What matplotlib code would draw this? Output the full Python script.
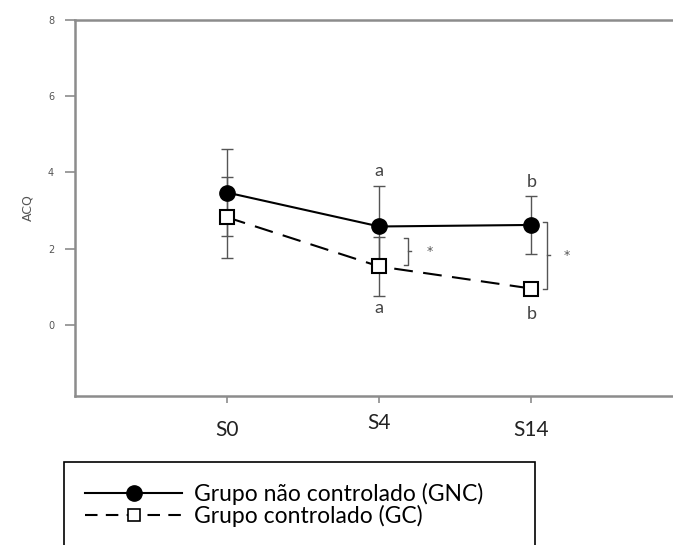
import matplotlib
matplotlib.use('Agg')
import matplotlib.pyplot as plt
from matplotlib.lines import Line2D
from matplotlib.patches import Rectangle

# data
semanas = ['S0', 'S4', 'S14']
x = [1, 2, 3]
gnc_media = [3.47, 2.58, 2.62]
gnc_erro = [1.14, 1.05, 0.76]
gc_media = [2.82, 1.53, 0.95]
gc_erro = [1.06, 0.77, 0.10]

# significance letters (x, y, text)
letras = [(2, 4.03, 'a'), (2, 0.45, 'a'), (3, 3.76, 'b'), (3, 0.29, 'b')]
# brackets between groups: x, y bottom, y top, star x
chaves = [(2.19, 1.58, 2.29, 2.33), (3.105, 0.95, 2.71, 3.23)]

cinza = '#8c8c8c'
fonte = ['Lato', 'DejaVu Sans']

fig = plt.figure(figsize=(6.73, 5.45), dpi=100)
ax = fig.add_axes([75/673, 1-396/545, 1-75/673, (396-20)/545])

ax.errorbar(x, gnc_media, yerr=gnc_erro, fmt='none', ecolor='#555555',
            elinewidth=1, capsize=4.5, capthick=1, zorder=2)
ax.errorbar(x, gc_media, yerr=gc_erro, fmt='none', ecolor='#555555',
            elinewidth=1, capsize=4.5, capthick=1, zorder=2)
ax.plot(x, gnc_media, '-', color='black', lw=1.5, marker='o', ms=11,
        mfc='black', mec='black', zorder=4)
ax.plot(x, gc_media, '--', color='black', lw=1.5, dashes=(9, 5), marker='s', ms=10,
        mfc='white', mec='black', mew=1.5, zorder=4)

for lx, ly, t in letras:
    ax.text(lx, ly, t, ha='center', va='center', fontsize=13,
            family=fonte, color='#444444')

for bx, y0, y1, sx in chaves:
    w = 0.03
    ym = (y0 + y1) / 2
    ax.plot([bx - w, bx, bx, bx - w], [y1, y1, y0, y0], color='#555555', lw=1)
    ax.plot([bx, bx + w * 0.6], [ym, ym], color='#555555', lw=1)
    ax.text(sx, ym, '*', ha='center', va='center', fontsize=9, color='#555555')

ax.set_xlim(0, 3.93)
ax.set_ylim(-1.87, 8)
ax.set_yticks([0, 2, 4, 6, 8])
ax.set_xticks(x)
ax.set_xticklabels(semanas, fontsize=15, family=fonte, color='#222222')
for lab in ax.get_xticklabels():
    if lab.get_text() == 'S4':
        lab.set_y(0.018)
ax.tick_params(axis='y', labelsize=7, colors='#555555', length=7, width=1.2, color=cinza, pad=8)
ax.tick_params(axis='x', length=5, width=1.2, color=cinza, pad=12)
ax.set_ylabel('ACQ', fontsize=9, color='#555555', labelpad=10)

for s in ['left', 'bottom', 'top']:
    ax.spines[s].set_color(cinza)
    ax.spines[s].set_linewidth(1.8)
ax.spines['right'].set_visible(False)

# legend box (runs past bottom of the figure)
fig.patches.append(Rectangle((64/673, -0.05), (535-64)/673, 0.05 + 1-462/545,
                             transform=fig.transFigure, fill=False,
                             edgecolor='black', lw=1.2))
handles = [Line2D([], [], color='black', lw=1.5, marker='o', ms=11, mfc='black'),
           Line2D([], [], color='black', lw=1.5, ls='--', dashes=(6, 4), marker='s', ms=8,
                  mfc='white', mew=1.2)]
fig.legend(handles, ['Grupo não controlado (GNC)', 'Grupo controlado (GC)'],
           loc='upper left', bbox_to_anchor=(74/673, 1-471/545), frameon=False,
           prop={'family': fonte, 'size': 16.5},
           handlelength=4.2, handletextpad=0.55, labelspacing=0.0, borderpad=0)

fig.savefig('out.png', dpi=100)
